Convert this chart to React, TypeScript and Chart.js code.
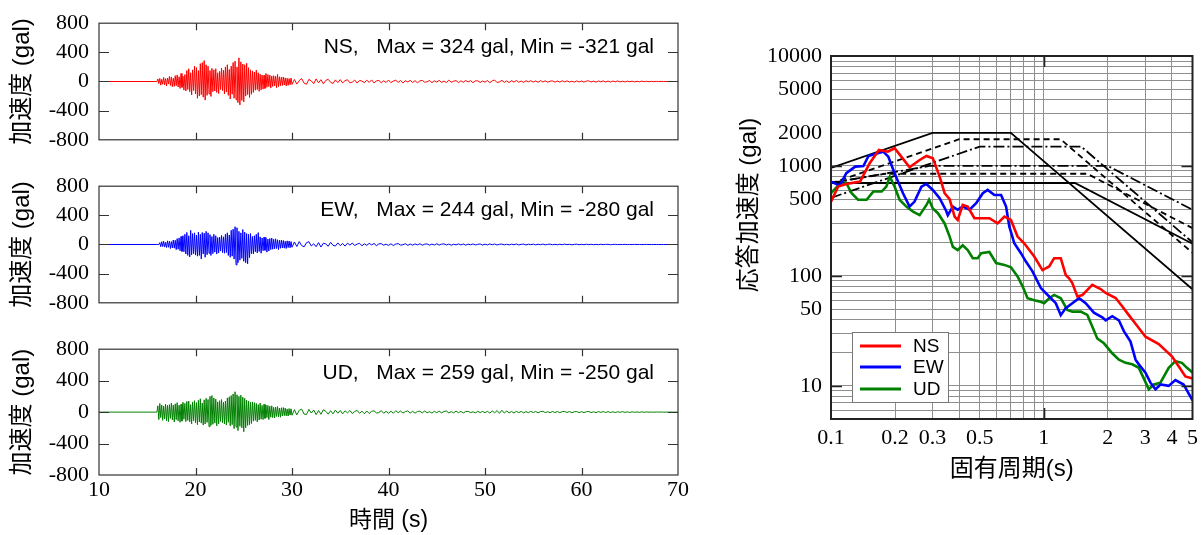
import { useEffect, useRef } from "react";
import { Chart, registerables } from "chart.js";

Chart.register(...registerables);

// ---------------- waveform data ----------------
const TIME_TICKS = [10, 20, 30, 40, 50, 60, 70];
const TIME_INNER_TICKS = [20, 30, 40, 50, 60];
const ACC_TICKS = [-800, -400, 0, 400, 800];
const ACC_INNER_TICKS = [-400, 0, 400];
const PRE_EVENT_TIMES = [10, 15.9];
const STRONG_START = 16.0;
const STRONG_STEP = 0.1;
const CODA_START = 30.25;
const CODA_STEP = 0.25;

const NS_STRONG = [
  0, 35, -28, 42, -50, 30, -38, 55, -45, 40,
  -60, 48, -35, 70, -55, 62, -72, 45, -66, 80,
  -58, 90, -75, 66, -95, 110, -80, 72, -118, 95,
  -130, 150, -110, 175, -140, 120, -185, 160, -125, 210,
  -170, 190, -230, 150, -200, 245, -180, 260, -215, 287,
  -255, 230, -190, 210, -170, 150, -205, 180, -140, 160,
  -130, 175, -150, 120, -165, 140, -110, 185, -125, 155,
  -170, 200, -145, 230, -190, 165, -240, 210, -175, 260,
  -230, 280, -250, 200, -290, 324, -321, 270, -260, 240,
  -280, 230, -200, 250, -180, 190, -220, 160, -175, 145,
  -150, 130, -120, 155, -110, 120, -135, 100, -115, 90,
  -105, 85, -95, 110, -80, 95, -70, 88, -90, 75,
  -68, 80, -60, 72, -85, 97, -70, 65, -58, 60,
  -55, 62, -48, 50, -60, 45, -52, 40, -45, 48,
  -40,
];
const NS_CODA = [
  28, -35, 12, 40, -22, -38, 30, 8, -30, 35,
  -18, 25, -32, 15, 30, -10, -28, 22, -15, 26,
  -20, 12, 24, -18, -8, 20, -22, 14, 6, -16,
  18, -12, 22, -20, 8, 15, -18, 10, -14, 20,
  -16, 6, 18, -12, 14, -20, 10, -6, 16, -14,
  12, -18, 8, 15, -10, -4, 14, -16, 10, -8,
  16, -12, 6, -14, 18, -10, 4, 12, -15, 9,
  -10, 14, -6, 12, -16, 8, 10, -12, 6, -9,
  14, -18, 10, 20, -14, -6, 16, -12, 8, -15,
  12, -8, 14, -10, 6, -12, 10, -4, 11, -9,
  8, -11, 12, -6, 9, -10, 5, 8, -9, 7,
  -8, 10, -5, 9, -7, 4, -9, 8, -6, 7,
  -8, 6, 9, -7, 5, -9, 7, -4, 8, -6,
  5, -7, 6, -3, 7, -5, 4, -6, 5, -3,
  4, -5, 3, -4, 5, -2, 3, -3, 2, -2,
  2, -1, 2, -1, 1, -1, 1, 0, 0, 0,
];

const EW_STRONG = [
  0, 0, 0, 25, -30, 38, -28, 45, -35, 30,
  -42, 50, -38, 45, -55, 40, -48, 62, -50, 58,
  -70, 80, -65, 90, -85, 110, -95, 120, -100, 140,
  -130, 165, -150, 120, -170, 193, -140, 150, -125, 160,
  -145, 130, -160, 170, -150, 140, -198, 165, -130, 155,
  -175, 180, -140, 160, -120, 135, -150, 110, -125, 140,
  -105, 120, -130, 95, -115, 100, -90, 125, -110, 105,
  -120, 140, -110, 160, -150, 130, -175, 195, -160, 210,
  -200, 244, -280, 230, -250, 180, -215, 160, -190, 205,
  -230, 170, -250, 150, -265, 140, -180, 150, -125, 110,
  -130, 120, -100, 140, -115, 163, -95, 105, -120, 90,
  -85, 100, -80, 95, -105, 75, -90, 82, -70, 88,
  -65, 72, -60, 78, -55, 65, -70, 58, -52, 60,
  -48, 55, -50, 45, -55, 50, -42, 48, -45, 40,
  -38,
];
const EW_CODA = [
  35, -28, 40, -15, -32, 25, 38, -20, 10, -30,
  26, -35, 18, 8, -24, 30, -12, -20, 22, -16,
  14, -22, 18, -8, 20, -15, 6, 16, -18, 10,
  -12, 16, -6, 14, -16, 8, 12, -10, 4, -12,
  10, -14, 6, 12, -8, -3, 11, -12, 7, -9,
  9, -6, 11, -10, 4, 8, -9, 6, -7, 10,
  -8, 5, 9, -7, 6, -10, 4, -5, 8, -6,
  7, -9, 5, -4, 8, -6, 3, 7, -8, 5,
  -6, 8, -4, 7, -7, 3, 6, -5, 4, -6,
  5, -4, 7, -6, 3, 5, -6, 4, -3, 5,
  -5, 4, -3, 6, -4, 2, 5, -4, 3, -4,
  4, -3, 5, -2, 3, -4, 2, 4, -3, 2,
  -3, 4, -2, 3, -3, 2, -2, 3, -2, 2,
  2, -3, 1, 2, -2, 1, -1, 2, -1, 1,
  -1, 1, 0, 1, -1, 0, 1, 0, -1, 0,
  0, 0, 0, 0, 0, 0, 0, 0, 0, 0,
];

const UD_STRONG = [
  0, 80, -95, 110, -70, 90, -105, 75, -88, 100,
  -110, 85, -120, 95, -80, 115, -100, 90, -125, 105,
  -95, 120, -110, 88, -130, 100, -115, 125, -90, 110,
  -120, 135, -105, 140, -125, 95, -150, 130, -110, 145,
  -135, 120, -160, 150, -125, 170, -140, 115, -165, 155,
  -150, 175, -130, 160, -185, 200, -170, 210, -155, 180,
  -140, 165, -175, 130, -150, 145, -120, 160, -135, 125,
  -150, 140, -165, 180, -130, 195, -175, 210, -160, 230,
  -210, 259, -190, 220, -235, 200, -180, 215, -200, 190,
  -250, 175, -200, 150, -170, 140, -160, 125, -145, 130,
  -115, 120, -105, 110, -125, 95, -100, 115, -90, 85,
  -95, 100, -80, 90, -70, 85, -95, 75, -65, 80,
  -70, 60, -75, 65, -55, 70, -60, 52, -65, 55,
  -50, 58, -45, 52, -48, 40, -50, 45, -38, 42,
  -40,
];
const UD_CODA = [
  30, -36, 22, 38, -25, -30, 34, -12, 26, -32,
  20, -28, 30, 10, -26, 18, -22, 25, -14, 20,
  -22, 16, -10, 20, -18, 8, 22, -15, 12, -20,
  14, -18, 10, 16, -12, -6, 18, -14, 9, -16,
  12, -15, 18, -8, 14, -12, 6, 15, -13, 10,
  -14, 8, 12, -10, 15, -9, 5, -12, 10, -8,
  12, -10, 8, 14, -11, 6, -9, 12, -7, 9,
  -11, 7, 10, -8, 5, -10, 9, -6, 8, -7,
  10, -12, 14, -9, 20, -16, 24, -12, 15, -10,
  8, -12, 10, -7, 9, -10, 6, -8, 10, -6,
  8, -9, 6, 10, -7, 5, -8, 9, -6, 7,
  -8, 6, 9, -5, 7, -8, 4, 7, -6, 5,
  -7, 5, 8, -6, 4, -7, 6, -4, 7, -5,
  6, -5, 4, -6, 5, -3, 6, -4, 3, -5,
  4, -3, 2, -3, 3, -2, 2, -1, 1, -1,
  1, 0, 1, -1, 0, 0, 0, 0, 0, 0,
];

const COMPONENTS = ["NS", "EW", "UD"];
const COLORS = ["#ff0000", "#0000ff", "#008000"];
const MAX_VALUES = [324, 244, 259];
const MIN_VALUES = [-321, -280, -250];

// ---------------- response spectra data ----------------
const PERIOD_GRID = [0.1, 0.2, 0.3, 0.4, 0.5, 0.6, 0.7, 0.8, 0.9, 1, 2, 3, 4, 5];
const PERIOD_LABELS = [0.1, 0.2, 0.3, 0.5, 1, 2, 3, 4, 5];
const SA_GRID = [
  5, 6, 7, 8, 9, 10, 20, 30, 40, 50, 60, 70, 80, 90, 100, 200, 300, 400, 500, 600, 700, 800, 900,
  1000, 2000, 3000, 4000, 5000, 6000, 7000, 8000, 9000, 10000,
];
const SA_LABELS = [10, 50, 100, 500, 1000, 2000, 5000, 10000];
const SA_DECADES = [10, 100, 1000];
const PERIOD_DECADES = [1];

const NS_PERIOD = [0.1, 0.108, 0.118, 0.137, 0.152, 0.168, 0.185, 0.199, 0.214, 0.234, 0.261, 0.281, 0.301, 0.324, 0.342, 0.361, 0.381, 0.394, 0.416, 0.439, 0.472, 0.555, 0.607, 0.653, 0.701, 0.753, 0.809, 0.902, 0.986, 1.06, 1.119, 1.202, 1.268, 1.315, 1.362, 1.438, 1.518, 1.69, 1.85, 1.954, 2.176, 2.336, 2.51, 2.75, 3.006, 3.47, 4.01, 4.31, 4.63, 5.0];
const NS_SA = [474, 649, 686, 720, 1059, 1398, 1349, 1449, 1215, 973, 1133, 1233, 1175, 800, 565, 500, 346, 323, 442, 427, 335, 335, 301, 346, 323, 228, 198, 150, 113, 122, 145, 145, 102, 95, 86, 65, 67, 83, 76, 70, 63, 53, 44, 35, 28, 24, 18.5, 15, 12.2, 11.7];

const EW_PERIOD = [0.1, 0.11, 0.118, 0.13, 0.142, 0.15, 0.164, 0.176, 0.186, 0.199, 0.218, 0.234, 0.247, 0.266, 0.281, 0.301, 0.324, 0.348, 0.354, 0.374, 0.394, 0.416, 0.448, 0.481, 0.517, 0.545, 0.586, 0.63, 0.665, 0.689, 0.727, 0.781, 0.824, 0.885, 0.969, 1.06, 1.139, 1.202, 1.268, 1.362, 1.465, 1.574, 1.72, 1.883, 1.954, 2.098, 2.254, 2.379, 2.556, 2.7, 2.797, 3.006, 3.172, 3.35, 3.535, 3.865, 4.155, 4.54, 5.0];
const EW_SA = [720, 663, 860, 987, 1000, 1233, 1300, 1350, 1215, 860, 565, 427, 474, 649, 686, 605, 510, 390, 357, 427, 400, 427, 400, 458, 565, 605, 545, 545, 427, 281, 198, 161, 135, 110, 77.5, 65, 56.5, 44, 51, 56.5, 62.7, 56.5, 46.3, 42, 39.5, 43, 39.5, 31.5, 25.3, 17.3, 15.7, 13.2, 10.7, 9.3, 10.3, 10, 11.3, 10.3, 7.4];

const UD_PERIOD = [0.1, 0.108, 0.118, 0.125, 0.134, 0.147, 0.158, 0.173, 0.182, 0.189, 0.199, 0.21, 0.226, 0.243, 0.261, 0.281, 0.289, 0.301, 0.318, 0.342, 0.361, 0.374, 0.394, 0.416, 0.439, 0.464, 0.489, 0.508, 0.555, 0.597, 0.653, 0.701, 0.753, 0.795, 0.839, 0.902, 0.952, 1.004, 1.06, 1.119, 1.202, 1.29, 1.362, 1.492, 1.602, 1.69, 1.784, 1.918, 2.098, 2.254, 2.424, 2.603, 2.797, 2.951, 3.115, 3.288, 3.535, 3.865, 4.155, 4.46, 4.71, 5.0];
const UD_SA = [565, 663, 700, 565, 493, 493, 585, 585, 649, 800, 649, 493, 427, 385, 357, 442, 493, 411, 372, 300, 228, 184, 172, 190, 172, 145, 145, 161, 165, 131, 126, 120, 99, 80.5, 62.7, 60, 58.7, 56.5, 62.7, 67.2, 62.7, 49, 47.4, 47.4, 44.2, 34.6, 27, 24.4, 19.8, 17.3, 16.2, 15.7, 14.6, 11.7, 9.3, 10.3, 10.7, 14.6, 16.8, 16.2, 14.6, 13.2];

// design spectra (large: level 2 type II, small: level 2 type I) for ground class I, II, III
const L2_I_T = [0.1, 0.3, 0.7, 5];
const L2_I_SA = [961, 2000, 2000, 75.5];
const L2_II_T = [0.1, 0.4, 1.2, 5];
const L2_II_SA = [694, 1750, 1750, 162];
const L2_III_T = [0.1, 0.5, 1.5, 5];
const L2_III_SA = [513, 1500, 1500, 202];
const L1_I_T = [0.1, 1.4, 5];
const L1_I_SA = [700, 700, 196];
const L1_II_T = [0.1, 0.18, 1.6, 5];
const L1_II_SA = [700, 850, 850, 272];
const L1_III_T = [0.1, 0.29, 2.0, 5];
const L1_III_SA = [701, 1000, 1000, 400];

// ---------------- helpers ----------------
const SERIF = '"Liberation Serif", "Times New Roman", serif';
const SANS = '"Liberation Sans", Arial, "Noto Sans CJK JP", sans-serif';

function buildWave(strong: number[], coda: number[]) {
  const pts: { x: number; y: number }[] = PRE_EVENT_TIMES.map((t) => ({ x: t, y: 0 }));
  strong.forEach((v, i) => pts.push({ x: Math.round((STRONG_START + i * STRONG_STEP) * 100) / 100, y: v }));
  coda.forEach((v, i) => pts.push({ x: Math.round((CODA_START + i * CODA_STEP) * 100) / 100, y: v }));
  return pts;
}

function zip(xs: number[], ys: number[]) {
  return xs.map((x, i) => ({ x, y: ys[i] }));
}

function framePlugin(id: string, cfg: any) {
  return {
    id,
    afterDatasetsDraw(chart: any) {
      const { ctx, chartArea } = chart;
      const { left, top, right, bottom } = chartArea;
      const sx = chart.scales.x;
      const sy = chart.scales.y;
      ctx.save();
      ctx.strokeStyle = cfg.color;
      ctx.lineWidth = cfg.tickWidth;
      ctx.beginPath();
      for (const v of cfg.xTicks) {
        const p = Math.round(sx.getPixelForValue(v)) + 0.5;
        ctx.moveTo(p, bottom);
        ctx.lineTo(p, bottom - cfg.xLen);
        ctx.moveTo(p, top);
        ctx.lineTo(p, top + cfg.xLen);
      }
      for (const v of cfg.yTicks) {
        const p = Math.round(sy.getPixelForValue(v)) + 0.5;
        ctx.moveTo(left, p);
        ctx.lineTo(left + cfg.yLen, p);
        ctx.moveTo(right, p);
        ctx.lineTo(right - cfg.yLen, p);
      }
      ctx.stroke();
      ctx.lineWidth = cfg.width;
      ctx.strokeRect(left, top, right - left, bottom - top);
      ctx.restore();
    },
  };
}

function notePlugin(text: string) {
  return {
    id: "note",
    afterDraw(chart: any) {
      const { ctx, chartArea } = chart;
      ctx.save();
      ctx.font = `21px ${SANS}`;
      ctx.fillStyle = "#000";
      ctx.textAlign = "right";
      ctx.textBaseline = "middle";
      ctx.fillText(text, chartArea.right - 24, chartArea.top + 24);
      ctx.restore();
    },
  };
}

const legendPlugin = {
  id: "boxLegend",
  afterDraw(chart: any) {
    const { ctx, chartArea } = chart;
    const x0 = chartArea.left + 21;
    const y0 = chartArea.top + 276;
    ctx.save();
    ctx.fillStyle = "#fff";
    ctx.fillRect(x0, y0, 96, 70);
    ctx.strokeStyle = "#777";
    ctx.lineWidth = 1;
    ctx.strokeRect(x0 + 0.5, y0 + 0.5, 96, 70);
    ctx.font = `19px ${SANS}`;
    ctx.textAlign = "left";
    ctx.textBaseline = "middle";
    const rows = [14, 35, 57];
    for (let i = 0; i < 3; i++) {
      const ds = chart.data.datasets[i];
      ctx.strokeStyle = ds.borderColor;
      ctx.lineWidth = 3;
      ctx.beginPath();
      ctx.moveTo(x0 + 8, y0 + rows[i]);
      ctx.lineTo(x0 + 49, y0 + rows[i]);
      ctx.stroke();
      ctx.fillStyle = "#000";
      ctx.fillText(ds.label, x0 + 61, y0 + rows[i] + 1);
    }
    ctx.restore();
  },
};

const spectraTitlePlugin = {
  id: "spectraTitle",
  afterDraw(chart: any) {
    const { ctx, chartArea } = chart;
    ctx.save();
    ctx.translate(chartArea.left - 82, chartArea.top + 149);
    ctx.rotate(-Math.PI / 2);
    ctx.font = `24px ${SANS}`;
    ctx.fillStyle = "#000";
    ctx.textAlign = "center";
    ctx.textBaseline = "middle";
    ctx.fillText("応答加速度 (gal)", 0, 0);
    ctx.restore();
  },
};

function waveConfig(idx: number, points: any[], showX: boolean) {
  const note = `${COMPONENTS[idx]},   Max = ${MAX_VALUES[idx]} gal, Min = ${MIN_VALUES[idx]} gal`;
  return {
    type: "line",
    data: {
      datasets: [
        {
          label: COMPONENTS[idx],
          data: points,
          borderColor: COLORS[idx],
          borderWidth: 1,
          pointRadius: 0,
          tension: 0,
          fill: false,
        },
      ],
    },
    options: {
      animation: false,
      responsive: false,
      events: [],
      layout: { padding: { top: 18, right: 22, bottom: showX ? 0 : 14, left: 0 } },
      plugins: { legend: { display: false }, tooltip: { enabled: false } },
      scales: {
        x: {
          type: "linear",
          min: TIME_TICKS[0],
          max: TIME_TICKS[TIME_TICKS.length - 1],
          display: showX,
          afterBuildTicks: (s: any) => {
            s.ticks = TIME_TICKS.map((v) => ({ value: v }));
          },
          afterFit: (s: any) => {
            s.height = showX ? 60 : 0;
          },
          grid: { display: false, drawTicks: false },
          border: { display: false },
          ticks: {
            color: "#000",
            font: { family: SERIF, size: 22 },
            padding: 2,
            autoSkip: false,
            maxRotation: 0,
            minRotation: 0,
            callback: (v: any) => String(v),
          },
          title: {
            display: true,
            text: "時間 (s)",
            color: "#000",
            font: { family: SANS, size: 23 },
            padding: { top: 0, bottom: 1 },
          },
        },
        y: {
          type: "linear",
          min: ACC_TICKS[0],
          max: ACC_TICKS[ACC_TICKS.length - 1],
          afterBuildTicks: (s: any) => {
            s.ticks = ACC_TICKS.map((v) => ({ value: v }));
          },
          afterFit: (s: any) => {
            s.width = 99;
          },
          grid: { display: false, drawTicks: false },
          border: { display: false },
          ticks: {
            color: "#000",
            font: { family: SERIF, size: 22 },
            padding: 10,
            autoSkip: false,
            callback: (v: any) => String(v),
          },
          title: {
            display: true,
            text: "加速度 (gal)",
            color: "#000",
            font: { family: SANS, size: 24 },
            padding: { top: 8, bottom: 0 },
          },
        },
      },
    },
    plugins: [
      framePlugin("frameW" + idx, {
        color: "#333",
        width: 1.2,
        tickWidth: 1.2,
        xTicks: TIME_INNER_TICKS,
        yTicks: ACC_INNER_TICKS,
        xLen: 7,
        yLen: 10,
      }),
      notePlugin(note),
    ],
  };
}

function spectraConfig() {
  const curve = (label: string, color: string, data: any[]) => ({
    label,
    data,
    borderColor: color,
    borderWidth: 2.6,
    pointRadius: 0,
    tension: 0,
    fill: false,
  });
  const design = (label: string, data: any[], dash: number[]) => ({
    label,
    data,
    borderColor: "#000",
    borderWidth: 1.8,
    borderDash: dash,
    pointRadius: 0,
    tension: 0,
    fill: false,
  });
  const DASH = [6, 4];
  const DASHDOT = [11, 3, 2, 3];
  return {
    type: "line",
    data: {
      datasets: [
        curve("NS", COLORS[0], zip(NS_PERIOD, NS_SA)),
        curve("EW", COLORS[1], zip(EW_PERIOD, EW_SA)),
        curve("UD", COLORS[2], zip(UD_PERIOD, UD_SA)),
        design("L2-I", zip(L2_I_T, L2_I_SA), []),
        design("L2-II", zip(L2_II_T, L2_II_SA), DASH),
        design("L2-III", zip(L2_III_T, L2_III_SA), DASHDOT),
        design("L1-I", zip(L1_I_T, L1_I_SA), []),
        design("L1-II", zip(L1_II_T, L1_II_SA), DASH),
        design("L1-III", zip(L1_III_T, L1_III_SA), DASHDOT),
      ],
    },
    options: {
      animation: false,
      responsive: false,
      events: [],
      layout: { padding: { top: 56, right: 10, bottom: 0, left: 0 } },
      plugins: { legend: { display: false }, tooltip: { enabled: false } },
      scales: {
        x: {
          type: "logarithmic",
          min: PERIOD_GRID[0],
          max: PERIOD_GRID[PERIOD_GRID.length - 1],
          afterBuildTicks: (s: any) => {
            s.ticks = PERIOD_GRID.map((v) => ({ value: v }));
          },
          afterFit: (s: any) => {
            s.height = 116;
          },
          grid: { color: "#8e8e8e", lineWidth: 1, drawTicks: false },
          border: { display: false },
          ticks: {
            color: "#000",
            font: { family: SERIF, size: 22 },
            padding: 6,
            autoSkip: false,
            maxRotation: 0,
            minRotation: 0,
            callback: (v: any) => (PERIOD_LABELS.includes(v) ? String(v) : ""),
          },
          title: {
            display: true,
            text: "固有周期(s)",
            color: "#000",
            font: { family: SANS, size: 24 },
            padding: { top: 0, bottom: 51 },
          },
        },
        y: {
          type: "logarithmic",
          min: SA_GRID[0],
          max: SA_GRID[SA_GRID.length - 1],
          afterBuildTicks: (s: any) => {
            s.ticks = SA_GRID.map((v) => ({ value: v }));
          },
          afterFit: (s: any) => {
            s.width = 131;
          },
          grid: { color: "#8e8e8e", lineWidth: 1, drawTicks: false },
          border: { display: false },
          ticks: {
            color: "#000",
            font: { family: SERIF, size: 22 },
            padding: 9,
            autoSkip: false,
            callback: (v: any) => (SA_LABELS.includes(v) ? String(v) : ""),
          },
        },
      },
    },
    plugins: [
      framePlugin("frameS", {
        color: "#222",
        width: 2,
        tickWidth: 1.6,
        xTicks: PERIOD_DECADES,
        yTicks: SA_DECADES,
        xLen: 11,
        yLen: 11,
      }),
      legendPlugin,
      spectraTitlePlugin,
    ],
  };
}

export default function App() {
  const nsRef = useRef<HTMLCanvasElement>(null);
  const ewRef = useRef<HTMLCanvasElement>(null);
  const udRef = useRef<HTMLCanvasElement>(null);
  const spRef = useRef<HTMLCanvasElement>(null);

  useEffect(() => {
    document.body.style.margin = "0";
    const charts: Chart[] = [];
    charts.push(new Chart(nsRef.current as any, waveConfig(0, buildWave(NS_STRONG, NS_CODA), false) as any));
    charts.push(new Chart(ewRef.current as any, waveConfig(1, buildWave(EW_STRONG, EW_CODA), false) as any));
    charts.push(new Chart(udRef.current as any, waveConfig(2, buildWave(UD_STRONG, UD_CODA), true) as any));
    charts.push(new Chart(spRef.current as any, spectraConfig() as any));
    return () => charts.forEach((c) => c.destroy());
  }, []);

  const abs = (left: number, top: number) => ({ position: "absolute" as const, left, top, display: "block" });

  return (
    <div style={{ position: "relative", width: 1204, height: 535, background: "#fff", overflow: "hidden" }}>
      <canvas ref={nsRef} width={700} height={163} style={abs(0, 0)} />
      <canvas ref={ewRef} width={700} height={163} style={abs(0, 163)} />
      <canvas ref={udRef} width={700} height={209} style={abs(0, 326)} />
      <canvas ref={spRef} width={504} height={535} style={abs(700, 0)} />
    </div>
  );
}
